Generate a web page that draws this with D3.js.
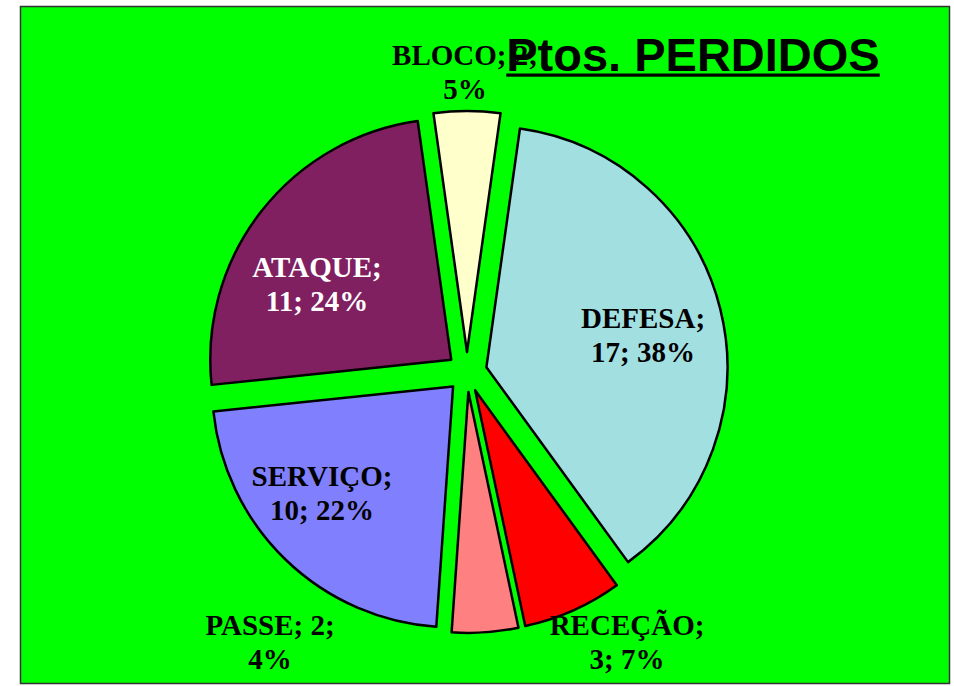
<!DOCTYPE html>
<html>
<head>
<meta charset="utf-8">
<script src="https://cdn.jsdelivr.net/npm/d3@7"></script>
<style>
  body { margin: 0; background: #fff; }
</style>
</head>
<body>
<div id="chart-area"></div>
<script>
const width = 954, height = 686;

// data
const categories = ["DEFESA", "RECEÇÃO", "PASSE", "SERVIÇO", "ATAQUE", "BLOCO"];
const values = [17, 3, 2, 10, 11, 2];
const percentLabels = ["38%", "7%", "4%", "22%", "24%", "5%"];
const colors = ["#a2dfe1", "#ff0000", "#ff8080", "#8080ff", "#802060", "#ffffcc"];
const title = "Ptos. PERDIDOS";

const cx = 467, cy = 372, radius = 241, explode = 20;

// where Excel put each label, relative to the pie centre (middle of the two lines)
const labelAt = {
    "DEFESA":  [176, -27],
    "RECEÇÃO": [160, 280],
    "PASSE":   [-197, 280],
    "SERVIÇO": [-145, 131],
    "ATAQUE":  [-150, -78],
    "BLOCO":   [-2, -290]
};

const data = categories.map((c, i) => ({name: c, value: values[i], pct: percentLabels[i], color: colors[i]}));

const svg = d3.select("#chart-area").append("svg")
    .attr("width", width)
    .attr("height", height)
    .style("display", "block");

svg.append("rect")
    .attr("x", 20.5).attr("y", 6.5)
    .attr("width", 929).attr("height", 677)
    .attr("fill", "#00ff00")
    .attr("stroke", "#333")
    .attr("stroke-width", 1.5);

const start = 8 * Math.PI / 180;
const pie = d3.pie()
    .sort(null)
    .value(d => d.value)
    .startAngle(start)
    .endAngle(start + 2 * Math.PI);

const arc = d3.arc().innerRadius(0).outerRadius(radius);

const arcs = pie(data);

const g = svg.append("g").attr("transform", `translate(${cx},${cy})`);

g.selectAll("path")
    .data(arcs)
    .enter().append("path")
        .attr("transform", d => {
            const a = (d.startAngle + d.endAngle) / 2;
            return `translate(${explode * Math.sin(a)},${-explode * Math.cos(a)})`;
        })
        .attr("d", arc)
        .attr("fill", d => d.data.color)
        .attr("stroke", "#000")
        .attr("stroke-width", 2.5)
        .attr("stroke-linejoin", "round");

// data labels: "NAME; value; pct" wrapped on two lines like Excel did
const lines = d => {
    const n = d.data.name, v = d.data.value, p = d.data.pct;
    if (n === "PASSE" || n === "BLOCO") return [`${n}; ${v};`, p];
    return [`${n};`, `${v}; ${p}`];
};

const labels = g.selectAll("text.lbl")
    .data(arcs)
    .enter().append("text")
        .attr("class", "lbl")
        .attr("text-anchor", "middle")
        .attr("font-family", "'Liberation Serif', 'Times New Roman', serif")
        .attr("font-weight", "bold")
        .attr("font-size", 29)
        .attr("fill", d => d.data.name === "ATAQUE" ? "#fff" : "#000")
        .attr("transform", d => `translate(${labelAt[d.data.name][0]},${labelAt[d.data.name][1]})`);

labels.each(function(d) {
    const t = d3.select(this);
    lines(d).forEach((s, i) => {
        t.append("tspan").attr("x", 0).attr("y", i === 0 ? -17 : 17).text(s);
    });
});

// title sits on top of the BLOCO label, as in the original
const tt = svg.append("text")
    .attr("x", 693).attr("y", 71)
    .attr("text-anchor", "middle")
    .attr("font-family", "'Liberation Sans', Arial, sans-serif")
    .attr("font-weight", "bold")
    .attr("font-size", 47)
    .attr("fill", "#000")
    .text(title);

const bb = tt.node().getBBox();
svg.append("rect")
    .attr("x", bb.x).attr("y", 73.5)
    .attr("width", bb.width).attr("height", 3.2)
    .attr("fill", "#000");
</script>
</body>
</html>
